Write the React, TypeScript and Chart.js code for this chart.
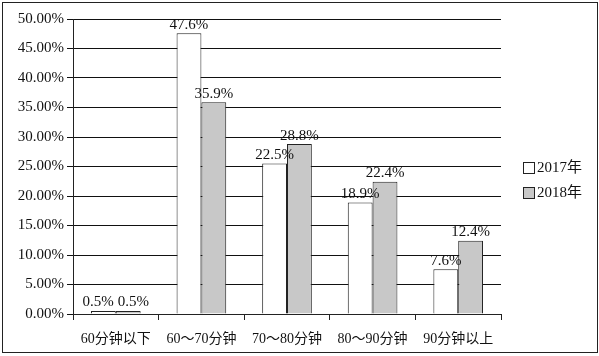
import React, { useEffect, useRef } from "react";
import { Chart, registerables } from "chart.js";

Chart.register(...registerables);

const categories = ["60分钟以下", "60～70分钟", "70～80分钟", "80～90分钟", "90分钟以上"];
const seriesNames = ["2017年", "2018年"];
const values2017 = [0.5, 47.6, 25.5, 18.9, 7.6];
const values2018 = [0.5, 35.9, 28.8, 22.4, 12.4];
const labels2017 = ["0.5%", "47.6%", "22.5%", "18.9%", "7.6%"];
const labels2018 = ["0.5%", "35.9%", "28.8%", "22.4%", "12.4%"];
const yTicks = [0, 5, 10, 15, 20, 25, 30, 35, 40, 45, 50];

const SERIF = "'Liberation Serif', 'Noto Sans CJK SC', serif";

export default function App() {
  const ref = useRef<HTMLCanvasElement | null>(null);

  useEffect(() => {
    if (!ref.current) return;
    const barLabels = [labels2017, labels2018];

    const framePlugin = {
      id: "frame",
      beforeDraw(chart: any) {
        const ctx = chart.ctx;
        ctx.save();
        ctx.fillStyle = "#fff";
        ctx.fillRect(0, 0, chart.width, chart.height);
        ctx.restore();
      },
      afterDraw(chart: any) {
        const ctx = chart.ctx;
        ctx.save();
        ctx.strokeStyle = "#222";
        ctx.lineWidth = 1;
        ctx.strokeRect(2.5, 2.5, 595, 350);
        // data labels with simple overlap avoidance between paired bars
        ctx.fillStyle = "#111";
        ctx.font = `15px ${SERIF}`;
        ctx.textBaseline = "bottom";
        ctx.textAlign = "center";
        const m0 = chart.getDatasetMeta(0);
        const m1 = chart.getDatasetMeta(1);
        const lh = 15;
        m0.data.forEach((b0: any, i: number) => {
          const b1 = m1.data[i];
          const t0 = barLabels[0][i];
          const t1 = barLabels[1][i];
          const w0 = ctx.measureText(t0).width;
          const w1 = ctx.measureText(t1).width;
          let x0 = b0.x;
          let x1 = b1.x;
          const y0 = b0.y - 1;
          const y1 = b1.y - 1;
          const vOverlap = Math.abs(y0 - y1) < lh;
          const need = (w0 + w1) / 2 + 4;
          if (vOverlap && x1 - x0 < need) {
            const push = (need - (x1 - x0)) / 2;
            x0 -= push;
            x1 += push;
          }
          ctx.fillText(t0, x0, y0);
          ctx.fillText(t1, x1, y1);
        });
        // legend
        chart.data.datasets.forEach((ds: any, di: number) => {
          const y = 162 + 25 * di;
          ctx.fillStyle = ds.backgroundColor;
          ctx.fillRect(523, y, 11, 11);
          ctx.strokeStyle = "#222";
          ctx.strokeRect(523.5, y + 0.5, 11, 11);
          ctx.fillStyle = "#111";
          ctx.textAlign = "left";
          ctx.textBaseline = "middle";
          ctx.fillText(ds.label, 537, y + 6);
        });
        ctx.restore();
      },
    };

    const chart = new Chart(ref.current, {
      type: "bar",
      data: {
        labels: categories,
        datasets: [
          {
            label: seriesNames[0],
            data: values2017,
            backgroundColor: "#ffffff",
            borderColor: "#222",
            borderWidth: 1,
            categoryPercentage: 0.58,
            barPercentage: 1,
          },
          {
            label: seriesNames[1],
            data: values2018,
            backgroundColor: "#c8c8c8",
            borderColor: "#222",
            borderWidth: 1,
            categoryPercentage: 0.58,
            barPercentage: 1,
          },
        ],
      },
      options: {
        responsive: false,
        animation: false,
        devicePixelRatio: 1,
        layout: { padding: { left: 0, right: 98, top: 19, bottom: 0 } },
        plugins: { legend: { display: false }, tooltip: { enabled: false } },
        scales: {
          x: {
            grid: {
              display: true,
              drawOnChartArea: false,
              drawTicks: true,
              tickLength: 6,
              color: "#222",
              offset: true,
            },
            border: { display: true, color: "#222" },
            ticks: { color: "#111", font: { family: SERIF, size: 14 }, padding: 11 },
            afterFit(scale: any) {
              scale.height = 42;
            },
          },
          y: {
            min: 0,
            max: 50,
            afterBuildTicks(scale: any) {
              scale.ticks = yTicks.map((v) => ({ value: v }));
            },
            grid: { color: "#111", lineWidth: 1, drawTicks: true, tickLength: 6 },
            border: { display: true, color: "#222" },
            ticks: {
              color: "#111",
              font: { family: SERIF, size: 15 },
              padding: 3,
              callback: (v: any) => Number(v).toFixed(2) + "%",
            },
            afterFit(scale: any) {
              scale.width = 73;
            },
          },
        },
      },
      plugins: [framePlugin],
    });
    return () => chart.destroy();
  }, []);

  return (
    <div style={{ position: "absolute", left: 0, top: 0, width: 599, height: 356 }}>
      <canvas ref={ref} width={599} height={356} />
    </div>
  );
}
